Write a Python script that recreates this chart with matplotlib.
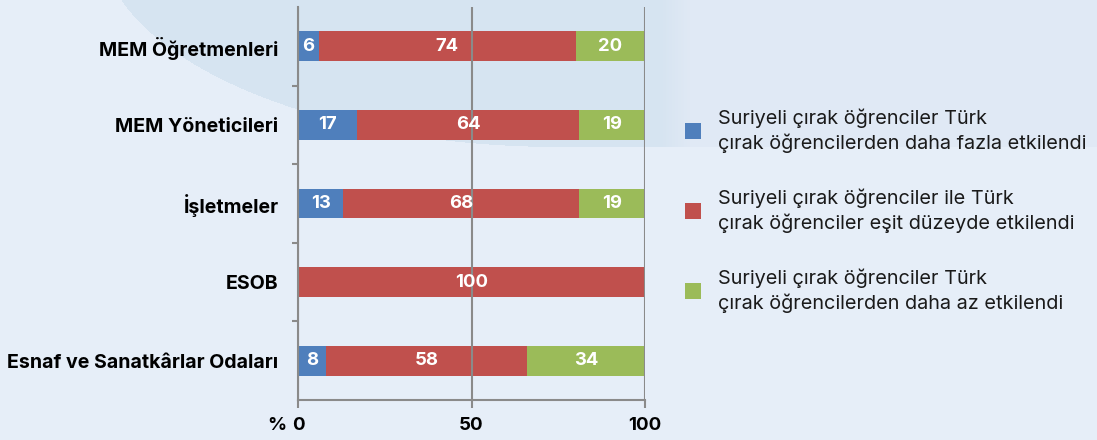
import numpy as np
import matplotlib
matplotlib.use("Agg")
import matplotlib.pyplot as plt
from matplotlib.colors import to_rgb
from matplotlib.patches import Rectangle

plt.rcParams['font.family'] = ['Inter', 'DejaVu Sans']

# data
categories = ["MEM Öğretmenleri", "MEM Yöneticileri", "İşletmeler", "ESOB",
              "Esnaf ve Sanatkârlar Odaları"]
more_affected = [6, 17, 13, 0, 8]
equally_affected = [74, 64, 68, 100, 58]
less_affected = [20, 19, 19, 0, 34]
series_labels = ["Suriyeli çırak öğrenciler Türk\nçırak öğrencilerden daha fazla etkilendi",
                 "Suriyeli çırak öğrenciler ile Türk\nçırak öğrenciler eşit düzeyde etkilendi",
                 "Suriyeli çırak öğrenciler Türk\nçırak öğrencilerden daha az etkilendi"]
x_ticks = [0, 50, 100]

COLORS = ["#4f7fbc", "#c0504d", "#9bbb59"]
BG = "#e6eef8"
GRAY = "#8a8a8a"

W, H = 1097, 440
fig = plt.figure(figsize=(W / 100, H / 100), dpi=100, facecolor=BG)

# decorative background: rounded band at top
px, py = np.meshgrid(np.arange(W) + 0.5, np.arange(H) + 0.5)
inside = ((((px - 560) / 460) ** 2 + ((py + 63) / 210) ** 2) <= 1) | ((px >= 560) & (py <= 147))
img = np.empty((H, W, 3))
img[:] = to_rgb(BG)
dark, light = np.array(to_rgb("#d6e4f1")), np.array(to_rgb("#e0e9f5"))
t = np.clip((px - 660) / 30, 0, 1)[..., None]
band = dark * (1 - t) + light * t
img[inside] = band[inside]
bg = fig.add_axes([0, 0, 1, 1], zorder=-10)
bg.imshow(img, aspect="auto", interpolation="bilinear")
bg.axis("off")

ax = fig.add_axes([0.2717, 0.0909, 0.3163, 0.893])
ax.set_facecolor("none")
ax.set_zorder(2)

y = np.arange(len(categories))
series = [more_affected, equally_affected, less_affected]
left = np.zeros(len(categories))
for vals, col in zip(series, COLORS):
    vals = np.array(vals, dtype=float)
    bars = ax.barh(y, vals, left=left, height=0.38, color=col, zorder=2)
    for b, v in zip(bars, vals):
        if v > 0:
            ax.text(b.get_x() + b.get_width() / 2, b.get_y() + b.get_height() / 2,
                    f"{int(v)}", ha="center", va="center", color="white",
                    fontsize=13.3, fontweight="bold", zorder=4)
    left += vals

ax.set_xlim(0, 100)
ax.set_ylim(len(categories) - 0.5, -0.5)
ax.set_xticks(x_ticks)
ax.set_xticklabels([str(t) for t in x_ticks], fontsize=13.5, fontweight="bold")
ax.set_yticks(y)
ax.set_yticklabels(categories, fontsize=14.1, fontweight="bold")
ax.set_yticks(np.arange(0.5, len(categories) - 0.5), minor=True)
ax.tick_params(axis="y", which="major", length=0, pad=14)
ax.tick_params(axis="y", which="minor", length=4, color=GRAY, width=1.5)
ax.tick_params(axis="x", length=6, color=GRAY, width=1.5, pad=6)
for s in ["top", "right"]:
    ax.spines[s].set_visible(False)
for s in ["left", "bottom"]:
    ax.spines[s].set_color(GRAY)
    ax.spines[s].set_linewidth(1.5)
    ax.spines[s].set_zorder(3)
ax.grid(axis="x", color=GRAY, linewidth=1.5, zorder=3)
ax.set_axisbelow(False)
ax.text(-3.5, -0.065, "%", transform=ax.get_xaxis_transform(), ha="right", va="center",
        fontsize=13.5, fontweight="bold")

# legend, laid out by hand
leg_y = [0.702, 0.520, 0.339]
for col, lab, ly in zip(COLORS, series_labels, leg_y):
    fig.patches.append(Rectangle((0.6244, ly - 0.0182), 0.0146, 0.0364,
                                 transform=fig.transFigure, facecolor=col,
                                 edgecolor="none"))
    fig.text(0.6545, ly, lab, ha="left", va="center", fontsize=14.3,
             linespacing=1.35, color="#1a1a1a")

fig.savefig("out.png", dpi=100, facecolor=BG)
